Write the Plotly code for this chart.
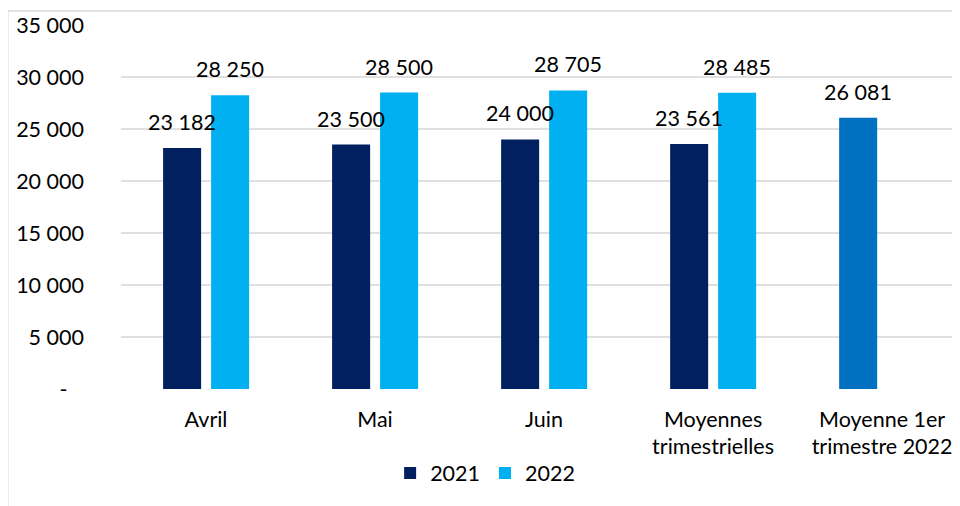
import plotly.graph_objects as go

categories = ["Avril", "Mai", "Juin", "Moyennes<br>trimestrielles", "Moyenne 1er<br>trimestre 2022"]
values_2021 = [23182, 23500, 24000, 23561, 26081]
values_2022 = [28250, 28500, 28705, 28485]
y_ticks = [0, 5000, 10000, 15000, 20000, 25000, 30000, 35000]
y_tick_labels = ["-\u00a0\u00a0\u00a0", "5 000", "10 000", "15 000", "20 000", "25 000", "30 000", "35 000"]

DARK = "#002060"
LIGHT = "#00B0F0"
MID = "#0070C0"
FONT = "Lato"
FS = 21.5

x_idx = list(range(len(categories)))
bar_w = 0.225


def fmt(v):
    return f"{v:,}".replace(",", " ")


fig = go.Figure()
fig.add_trace(
    go.Bar(
        x=x_idx[: len(values_2021)],
        y=values_2021,
        name="2021",
        width=bar_w,
        offset=-0.254,
        marker=dict(color=[DARK] * (len(values_2021) - 1) + [MID], line=dict(width=0)),
    )
)
fig.add_trace(
    go.Bar(
        x=x_idx[: len(values_2022)],
        y=values_2022,
        name="2022",
        width=bar_w,
        offset=0.030,
        marker=dict(color=LIGHT, line=dict(width=0)),
    )
)

# data labels above the bars
for series, shift in ((values_2021, -0.254), (values_2022, 0.030)):
    for i, v in enumerate(series):
        fig.add_annotation(
            x=i + shift + bar_w / 2,
            y=v,
            text=fmt(v),
            showarrow=False,
            yanchor="bottom",
            yshift=11,
            font=dict(family=FONT, size=FS, color="#000000"),
        )

# chart frame (left/top edge visible in the crop)
fig.add_shape(
    type="rect", xref="paper", yref="paper",
    x0=-0.135, x1=1.2, y0=-0.6, y1=1.0385,
    line=dict(color="#D9D9D9", width=1.5), fillcolor="rgba(0,0,0,0)",
)

# the page body has an 8px margin, so the figure is 8px smaller than the window
fig.update_layout(
    width=952,
    height=498,
    margin=dict(l=113, r=0, t=17, b=117),
    paper_bgcolor="white",
    plot_bgcolor="white",
    font=dict(family=FONT, size=FS, color="#000000"),
    barmode="overlay",
    showlegend=True,
    legend=dict(
        orientation="h",
        x=0.434,
        xanchor="center",
        y=-0.231,
        yanchor="middle",
        font=dict(size=FS),
        itemwidth=30,
        traceorder="normal",
    ),
    xaxis=dict(
        range=[-0.503, 4.461],
        tickvals=x_idx,
        ticktext=categories,
        showgrid=False,
        zeroline=False,
        showline=False,
        ticks="",
        ticklabelstandoff=15,
        fixedrange=True,
    ),
    yaxis=dict(
        range=[0, 35000],
        tickvals=y_ticks,
        ticktext=y_tick_labels,
        showgrid=True,
        gridcolor="#E0E0E0",
        gridwidth=1.5,
        zeroline=False,
        showline=False,
        ticks="",
        ticklabelstandoff=36,
        fixedrange=True,
    ),
)

fig.write_html("out.html")
